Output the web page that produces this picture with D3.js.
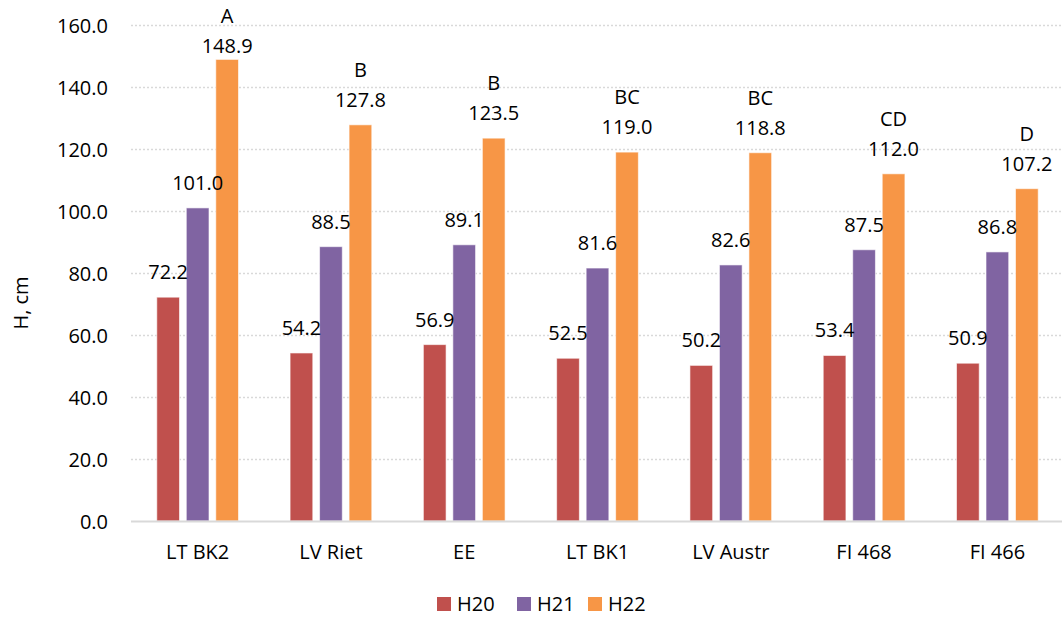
<!DOCTYPE html>
<html><head><meta charset="utf-8">
<script src="https://cdn.jsdelivr.net/npm/d3@7"></script>
<style>body{margin:0;background:#fff;} svg{display:block;font-family:"Open Sans",sans-serif;}</style>
</head><body>
<svg id="chart" width="1062" height="617"></svg>
<script>
const categories = ["LT BK2","LV Riet","EE","LT BK1","LV Austr","FI 468","FI 466"];
const seriesNames = ["H20","H21","H22"];
const h20 = [72.2,54.2,56.9,52.5,50.2,53.4,50.9];
const h21 = [101.0,88.5,89.1,81.6,82.6,87.5,86.8];
const h22 = [148.9,127.8,123.5,119.0,118.8,112.0,107.2];
const letters = ["A","B","B","BC","BC","CD","D"];
const yTicks = [0,20,40,60,80,100,120,140,160];
const colors = ["#C0504D","#8064A2","#F79646"];

const seriesValues = [h20,h21,h22];
const svg = d3.select("#chart");
const plotLeft = 131, plotRight = 1064, plotTop = 25, plotBottom = 521;
const FS = 20;

const y = d3.scaleLinear().domain([0,160]).range([plotBottom, plotTop]);
const x0 = d3.scaleBand().domain(categories).range([plotLeft, plotRight]).paddingInner(0.387).paddingOuter(0.1935);
const x1 = d3.scaleBand().domain(seriesNames).range([0, x0.bandwidth()]).paddingInner(0.23).paddingOuter(0);

// gridlines
svg.append("g").selectAll("line").data(yTicks.filter(d=>d>0)).join("line")
  .attr("x1", plotLeft).attr("x2", plotRight)
  .attr("y1", d=>y(d)+0.5).attr("y2", d=>y(d)+0.5)
  .attr("stroke", "#d9d9d9").attr("stroke-width", 1.3).attr("stroke-dasharray", "2,2");

// y tick labels
const yAxis = d3.axisLeft(y).tickValues(yTicks).tickFormat(d3.format(".1f")).tickSize(0).tickPadding(23);
const ya = svg.append("g").attr("transform", `translate(${plotLeft},0)`).call(yAxis);
ya.select(".domain").remove();
ya.selectAll("text").attr("font-size", FS).attr("fill", "#000").attr("font-family", "Open Sans").attr("dy", "0.35em");

// bars
const barLayer = svg.append("g");
const labelLayer = svg.append("g");
const barGroups = barLayer.selectAll("g").data(categories).join("g")
  .attr("transform", d => `translate(${x0(d)},0)`);
const labelGroups = labelLayer.selectAll("g").data(categories).join("g")
  .attr("transform", d => `translate(${x0(d)},0)`);
const labelY = v => Math.max(y(v) - 18, 53);
seriesNames.forEach((s, si) => {
  barGroups.append("rect")
    .attr("x", x1(s))
    .attr("width", x1.bandwidth())
    .attr("y", (d,i) => y(seriesValues[si][i]))
    .attr("height", (d,i) => y(0) - y(seriesValues[si][i]))
    .attr("fill", colors[si])
    .attr("stroke", "#fff").attr("stroke-opacity", 0.6).attr("stroke-width", 1);
  labelGroups.append("text")
    .attr("x", x1(s) + x1.bandwidth()/2)
    .attr("y", (d,i) => labelY(seriesValues[si][i]))
    .attr("text-anchor", "middle").attr("font-size", FS).attr("fill", "#000")
    .text((d,i) => seriesValues[si][i].toFixed(1));
});
// letters
labelGroups.append("text")
  .attr("x", x1("H22") + x1.bandwidth()/2)
  .attr("y", (d,i) => labelY(h22[i]) - 30)
  .attr("text-anchor", "middle").attr("font-size", FS).attr("fill", "#000")
  .text((d,i) => letters[i]);

// baseline
svg.append("line").attr("x1", plotLeft).attr("x2", plotRight).attr("y1", y(0)+0.5).attr("y2", y(0)+0.5)
  .attr("stroke", "#d9d9d9").attr("stroke-width", 2);

// x axis labels
const xAxis = d3.axisBottom(x0).tickSize(0).tickPadding(24);
const xa = svg.append("g").attr("transform", `translate(0,${plotBottom})`).call(xAxis);
xa.select(".domain").remove();
xa.selectAll("text").attr("font-size", FS).attr("fill", "#000").attr("font-family", "Open Sans").attr("dy", "0.71em");

// y title
svg.append("text").attr("transform", "translate(28,303) rotate(-90)")
  .attr("text-anchor", "middle").attr("font-size", FS).attr("fill", "#000").text("H, cm");

// legend
const legX = [437, 517, 588];
const leg = svg.append("g").selectAll("g").data(seriesNames).join("g")
  .attr("transform", (d,i) => `translate(${legX[i]},597)`);
leg.append("rect").attr("width", 14).attr("height", 14).attr("fill", (d,i) => colors[i]);
leg.append("text").attr("x", 20).attr("y", 14).attr("font-size", FS).attr("fill", "#000").text(d => d);
</script>
</body></html>
